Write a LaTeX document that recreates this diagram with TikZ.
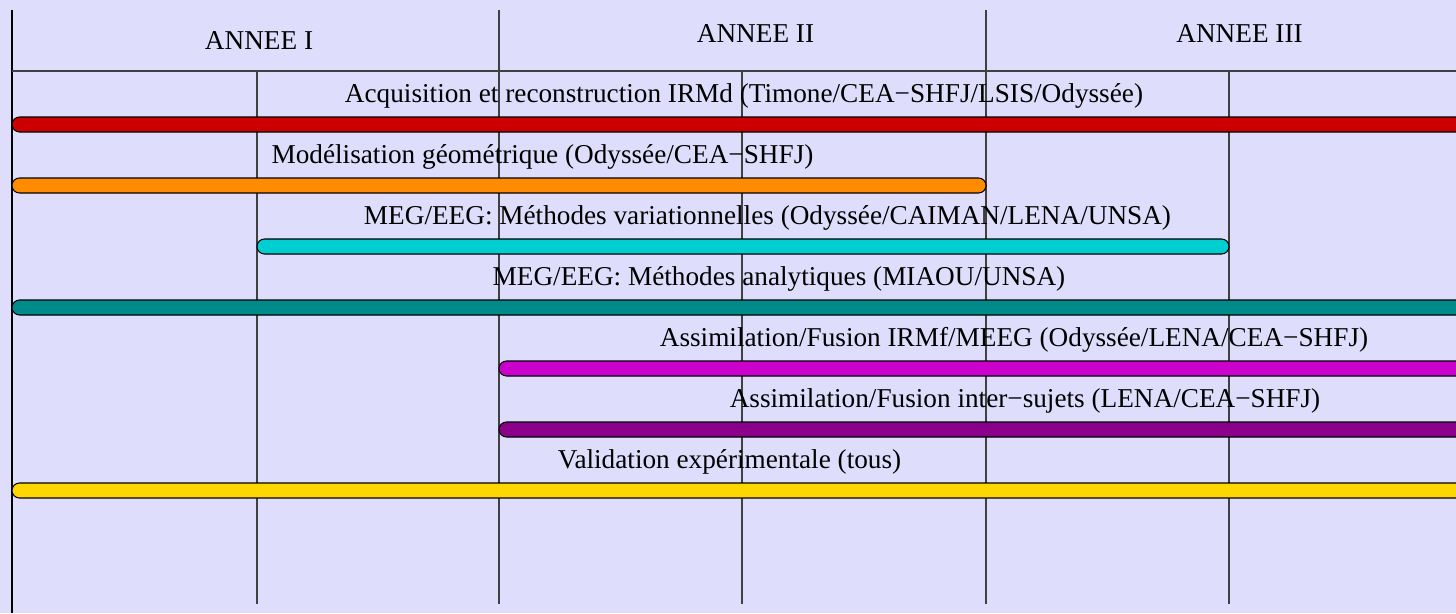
\documentclass[tikz,border=0pt]{standalone}
\usepackage{fontspec}
\setmainfont{Liberation Serif}
\usepackage{tikz}

\definecolor{fond}{RGB}{222,222,252}
\definecolor{rouge}{RGB}{204,0,0}
\definecolor{orange}{RGB}{255,140,0}
\definecolor{turquoise}{RGB}{0,206,209}
\definecolor{sarcelle}{RGB}{0,139,139}
\definecolor{magenta}{RGB}{204,0,204}
\definecolor{violet}{RGB}{139,0,139}
\definecolor{jaune}{RGB}{255,215,0}

\tikzset{
  grille/.style={draw=black!75, line width=0.6pt},
  barre/.style={draw=black, line width=0.6pt, rounded corners=0.15cm},
  texte/.style={anchor=base, inner sep=0pt, font=\fontsize{15.5}{18}\selectfont}
}

\begin{document}
\begin{tikzpicture}[x=0.02cm, y=-0.02cm]
      \fill[fond] (0,0) rectangle (1456,613);
      \clip (0,0) rectangle (1456,613);
      % annees
      \draw[grille, draw=black] (12,10) -- (12,613);
      \draw[grille] (499,10) -- (499,604);
      \draw[grille] (986,10) -- (986,604);
      \draw[grille] (12,71) -- (1456,71);
      % semestres
      \draw[grille] (257,71) -- (257,604);
      \draw[grille] (742,71) -- (742,604);
      \draw[grille] (1229,71) -- (1229,604);
      \node[texte] (an1) at (259,49) {ANNEE I};
      \node[texte] (an2) at (755.5,42) {ANNEE II};
      \node[texte] (an3) at (1239.5,42) {ANNEE III};
      % taches
      \draw[barre, fill=rouge] (12,117) rectangle (1480,132);
      \draw[barre, fill=orange] (12,178) rectangle (986,193);
      \draw[barre, fill=turquoise] (257,239) rectangle (1229,254);
      \draw[barre, fill=sarcelle] (12,300) rectangle (1480,315);
      \draw[barre, fill=magenta] (499,361) rectangle (1480,376);
      \draw[barre, fill=violet] (499,422) rectangle (1480,437);
      \draw[barre, fill=jaune] (12,483) rectangle (1480,498);
      \node[texte] (acq) at (744,102) {Acquisition et reconstruction IRMd (Timone/CEA−SHFJ/LSIS/Odyssée)};
      \node[texte] (geom) at (542.5,163) {Modélisation géométrique (Odyssée/CEA−SHFJ)};
      \node[texte] (varia) at (767.5,224) {MEG/EEG: Méthodes variationnelles (Odyssée/CAIMAN/LENA/UNSA)};
      \node[texte] (analy) at (779,285) {MEG/EEG: Méthodes analytiques (MIAOU/UNSA)};
      \node[texte] (irmf) at (1014,346) {Assimilation/Fusion IRMf/MEEG (Odyssée/LENA/CEA−SHFJ)};
      \node[texte] (inter) at (1025,407) {Assimilation/Fusion inter−sujets (LENA/CEA−SHFJ)};
      \node[texte] (valid) at (729.5,468) {Validation expérimentale (tous)};
    \end{tikzpicture}
\end{document}
